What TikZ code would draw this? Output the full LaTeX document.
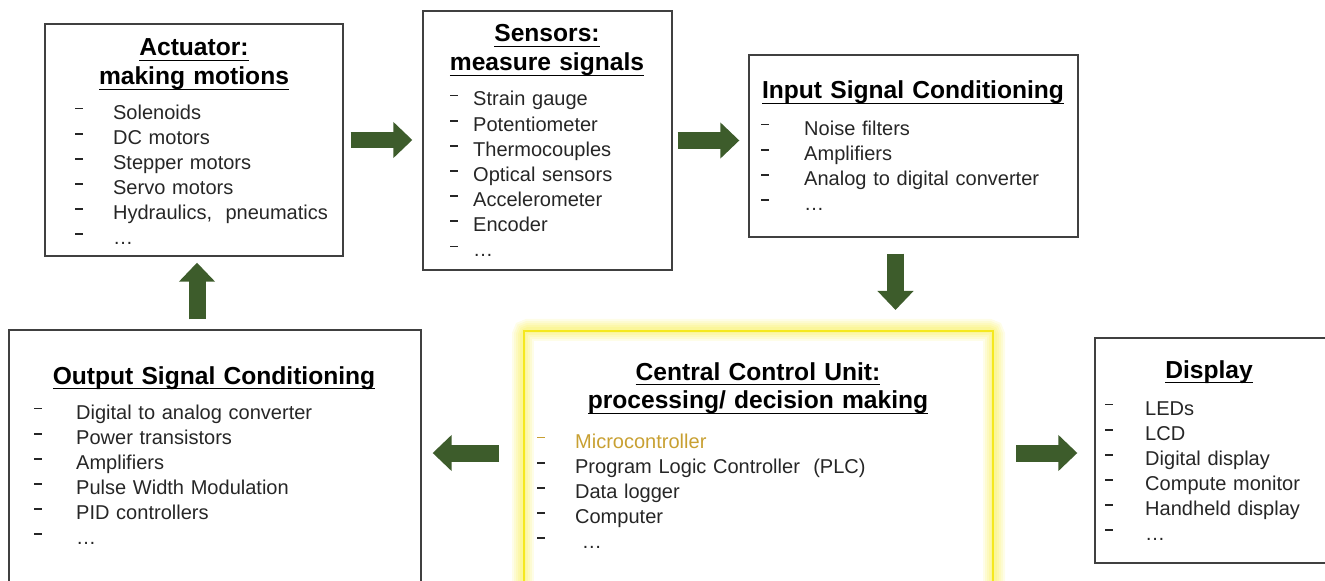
\documentclass[tikz,border=0pt]{standalone}
\usepackage{fontspec}
\setmainfont{Liberation Sans}
\usepackage{xcolor}
\usepackage{tikz}
\usetikzlibrary{arrows.meta,backgrounds}

\definecolor{arrowgreen}{RGB}{61,92,43}
\definecolor{txtgray}{RGB}{38,38,38}
\definecolor{gold}{RGB}{200,160,50}
\definecolor{glowyellow}{RGB}{250,242,110}
\definecolor{glowline}{RGB}{245,232,30}

\newcommand{\dashmark}{\rule[0.48em]{4.6pt}{0.9pt}}
\newcommand{\li}[2]{\makebox[#1][l]{\dashmark}#2}
\newcommand{\uln}[1]{\leavevmode\setbox0\hbox{#1}\rlap{\rule[-3pt]{\wd0}{0.85pt}}\box0}

\begin{document}
\begin{tikzpicture}[
    x=0.02cm, y=-0.02cm,
    block/.style={rectangle, draw=black!75, line width=0.8pt, inner sep=0pt},
    heading/.style={anchor=base, text width=8cm, align=center, inner sep=0pt, font=\fontsize{14}{16.4}\selectfont\bfseries},
    items/.style={anchor=base west, text width=7cm, align=left, inner sep=0pt, text=txtgray, font=\fontsize{11.4}{14.3}\selectfont},
    flow/.style={line width=0.34cm, draw=arrowgreen, -{Triangle[width=0.7cm,length=0.38cm]}}
]
\useasboundingbox (0,0) rectangle (1325,581);
\clip (0,0) rectangle (1325,581);

% Blocks
\node[block, minimum width=5.96cm, minimum height=4.64cm] (actuator) at (194,140) {};
\node[block, minimum width=4.98cm, minimum height=5.18cm] (sensors) at (547.5,140.5) {};
\node[block, minimum width=6.58cm, minimum height=3.64cm] (inputSC) at (913.5,146) {};
\node[block, minimum width=8.24cm, minimum height=5.4cm] (outputSC) at (215,465) {};
\node[block, minimum width=4.9cm, minimum height=4.5cm] (display) at (1217.5,450.5) {};
\node[rectangle, draw=glowline, line width=1.2pt, inner sep=0pt, minimum width=9.38cm, minimum height=5.38cm] (ccu) at (758.5,465.5) {};

% Glow round the control unit
\begin{scope}[on background layer]
\foreach \w/\o in {0.44/0.16,0.36/0.18,0.28/0.2,0.2/0.24,0.12/0.3}
  \draw[glowyellow, line width=\w cm, opacity=\o, rounded corners=0.1cm] (ccu.north west) rectangle (ccu.south east);
\end{scope}

% Headings
\node[heading] (actuatorT) at (194,56) {\uln{Actuator:}\\\uln{making motions}};
\node[heading] (sensorsT) at (547,42) {\uln{Sensors:}\\\uln{measure signals}};
\node[heading] (inputT) at (913,99) {\uln{Input Signal Conditioning}};
\node[heading] (outputT) at (214,384) {\uln{Output Signal Conditioning}};
\node[heading] (ccuT) at (758,380) {\uln{Central Control Unit:}\\\uln{processing/ decision making}};
\node[heading] (displayT) at (1209,378) {\uln{Display}};

% Lists
\node[items] (actuatorL) at (75,119) {\li{21.5pt}{Solenoids}\\\li{21.5pt}{DC motors}\\\li{21.5pt}{Stepper motors}\\\li{21.5pt}{Servo motors}\\\li{21.5pt}{Hydraulics,\ \ pneumatics}\\\li{21.5pt}{\ldots}};
\node[items] (sensorsL) at (450,106) {\li{13pt}{Strain gauge}\\\li{13pt}{Potentiometer}\\\li{13pt}{Thermocouples}\\\li{13pt}{Optical sensors}\\\li{13pt}{Accelerometer}\\\li{13pt}{Encoder}\\\li{13pt}{\ldots}};
\node[items] (inputL) at (761,135) {\li{24.4pt}{Noise filters}\\\li{24.4pt}{Amplifiers}\\\li{24.4pt}{Analog to digital converter}\\\li{24.4pt}{\ldots}};
\node[items] (outputL) at (34,419) {\li{23.8pt}{Digital to analog converter}\\\li{23.8pt}{Power transistors}\\\li{23.8pt}{Amplifiers}\\\li{23.8pt}{Pulse Width Modulation}\\\li{23.8pt}{PID controllers}\\\li{23.8pt}{\ldots}};
\node[items] (ccuL) at (537,448) {{\color{gold}\li{21.5pt}{Microcontroller}}\\\li{21.5pt}{Program Logic Controller\ \ (PLC)}\\\li{21.5pt}{Data logger}\\\li{21.5pt}{Computer}\\\li{21.5pt}{\ \ldots}};
\node[items] (displayL) at (1105,415) {\li{22.7pt}{LEDs}\\\li{22.7pt}{LCD}\\\li{22.7pt}{Digital display}\\\li{22.7pt}{Compute monitor}\\\li{22.7pt}{Handheld display}\\\li{22.7pt}{\ldots}};

% Signal flow
\draw[flow, shorten <=0.14cm, shorten >=0.2cm] (actuator.east) -- (sensors.west |- actuator.east);
\draw[flow, shorten <=0.1cm, shorten >=0.18cm] (sensors.east) -- (sensors.east -| inputSC.west);
\draw[flow, shorten <=0.32cm, shorten >=0.4cm] ([xshift=-0.36cm]inputSC.south) -- ([xshift=-0.36cm]inputSC.south |- ccu.north);
\draw[flow, shorten <=0.48cm, shorten >=0.22cm] ([yshift=0.25cm]ccu.west) -- ([yshift=0.25cm]ccu.west -| outputSC.east);
\draw[flow, shorten <=0.44cm, shorten >=0.34cm] ([yshift=0.25cm]ccu.east) -- ([yshift=0.25cm]ccu.east -| display.west);
\draw[flow, shorten <=0.2cm, shorten >=0.12cm] ([xshift=0.06cm]actuator.south |- outputSC.north) -- ([xshift=0.06cm]actuator.south);

\end{tikzpicture}
\end{document}
